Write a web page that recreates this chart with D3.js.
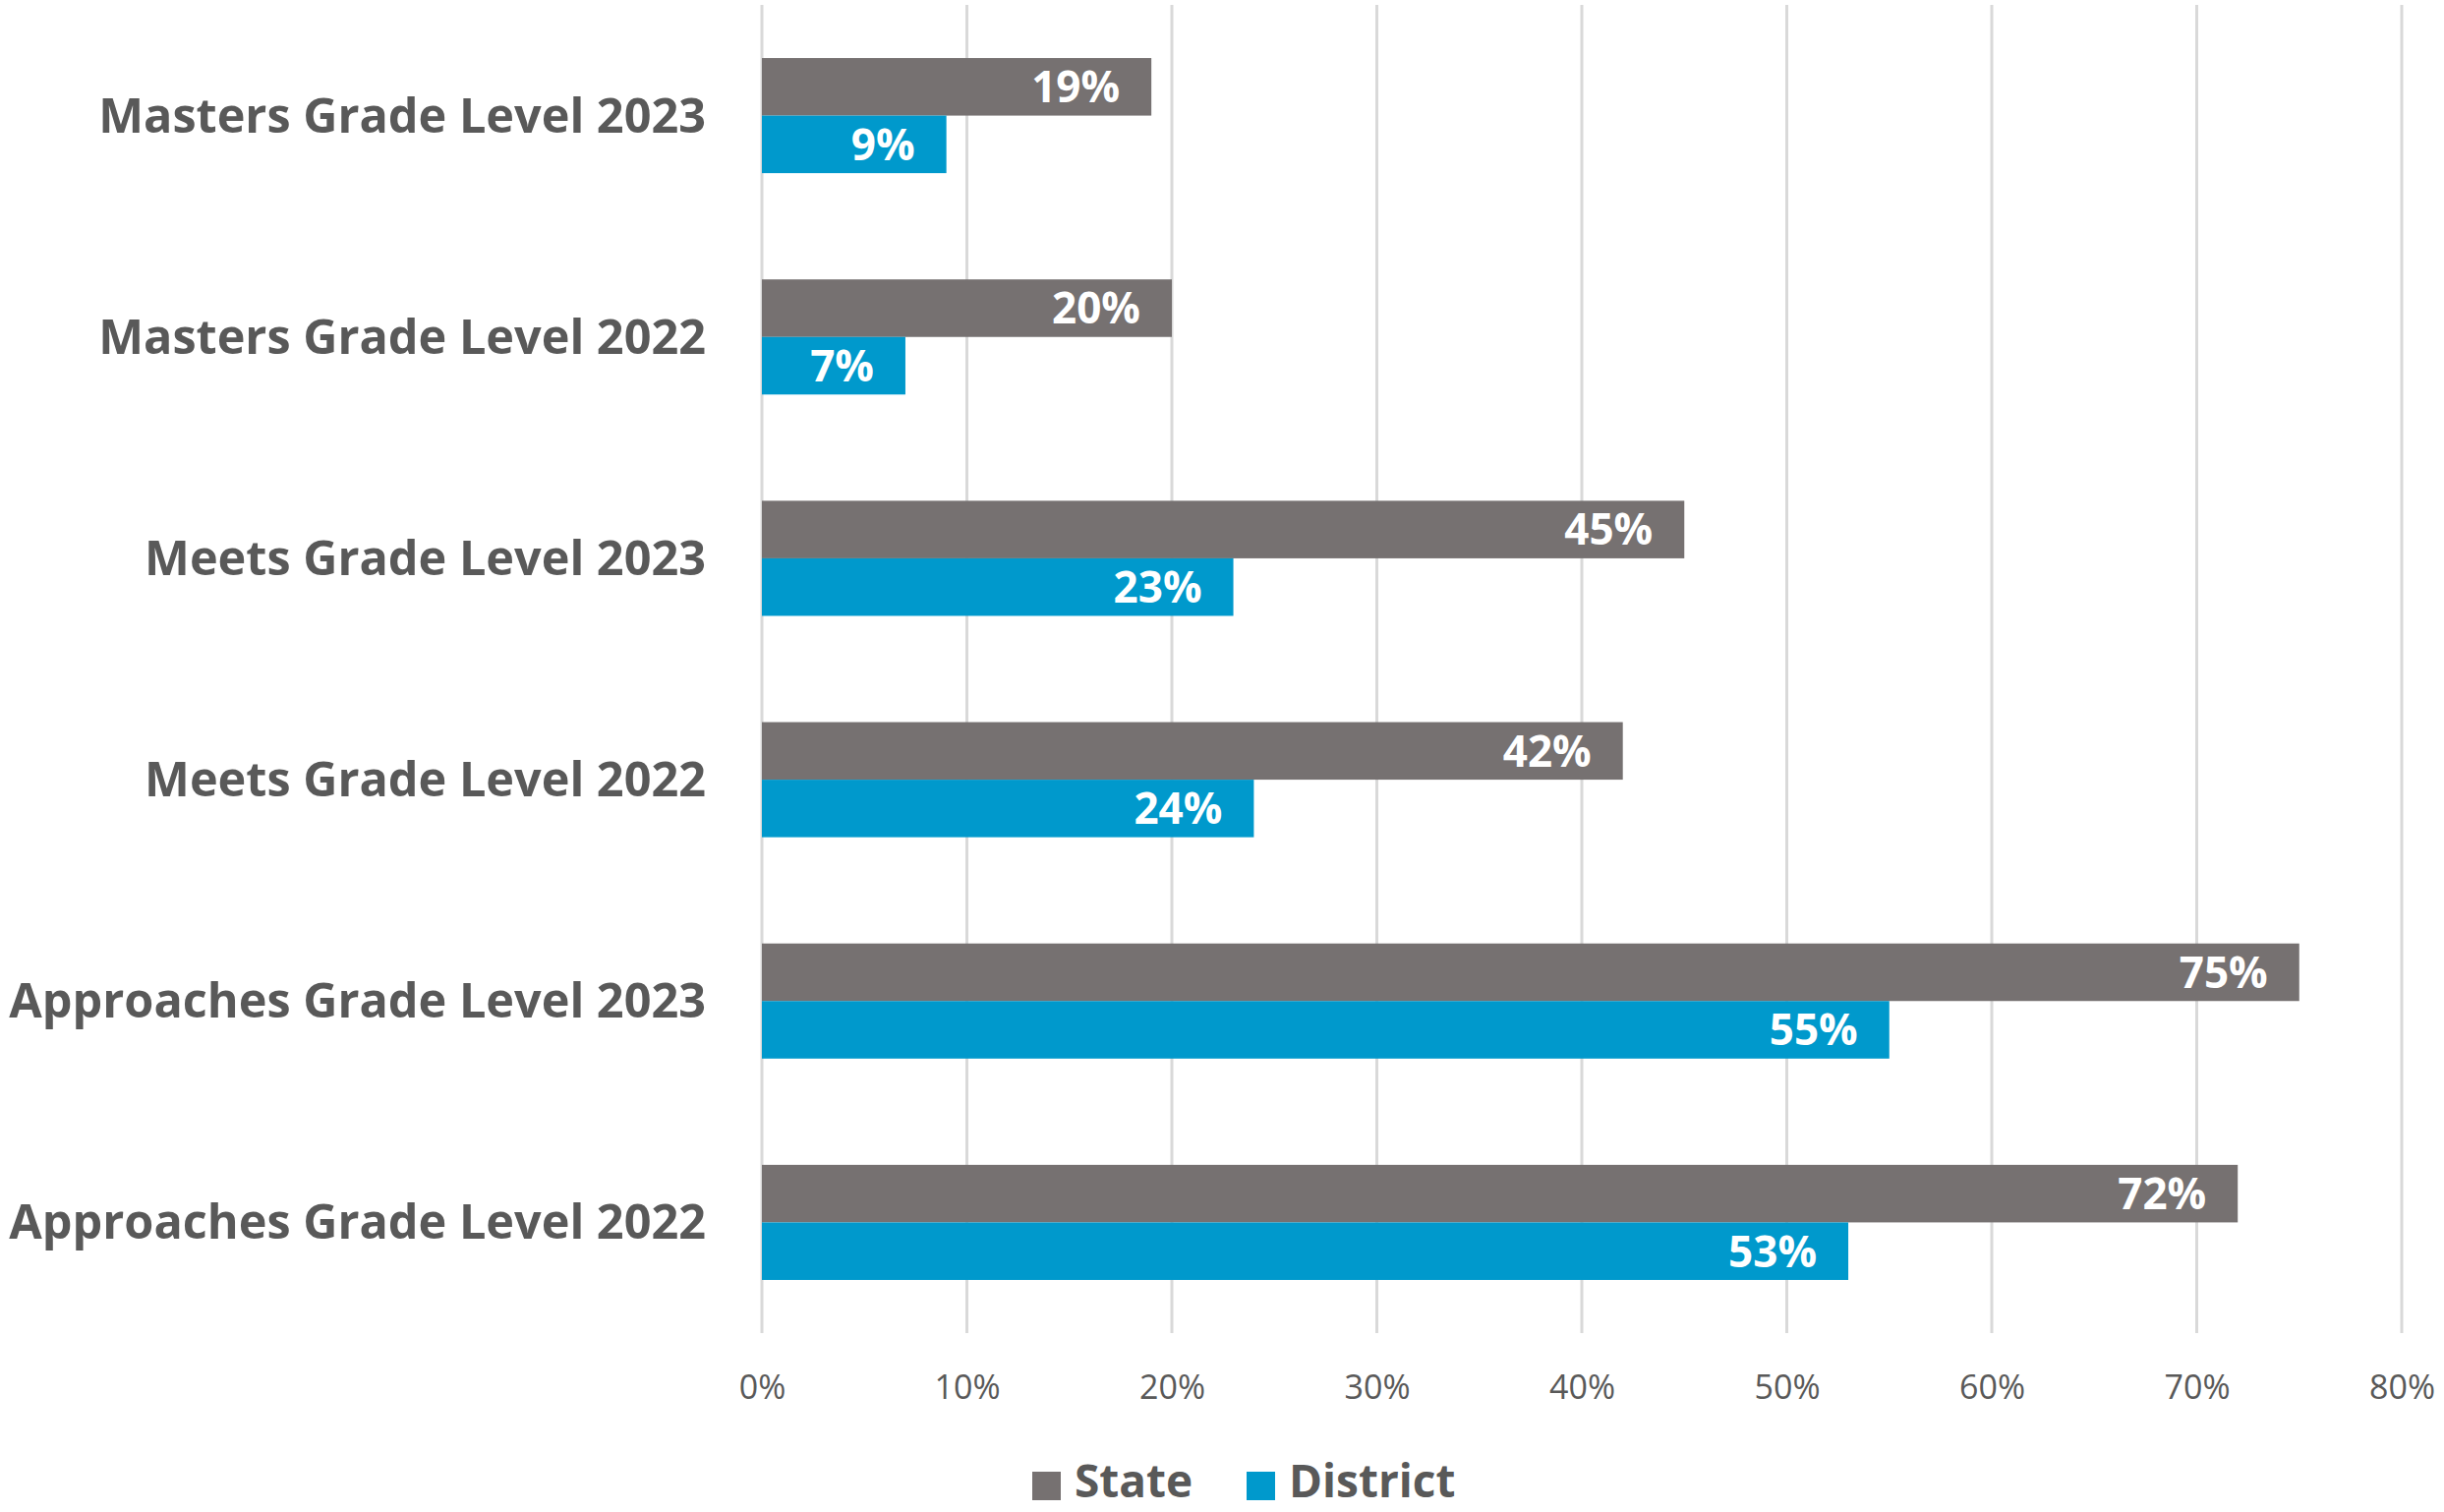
<!DOCTYPE html>
<html>
<head>
<meta charset="utf-8">
<script src="https://cdn.jsdelivr.net/npm/d3@7"></script>
<style>
  html, body { margin: 0; padding: 0; background: #ffffff; }
  svg { display: block; }
</style>
</head>
<body>
<svg id="chart" width="2486" height="1538"></svg>
<script>
// Performance levels, top to bottom
const categories = [
  "Masters Grade Level 2023",
  "Masters Grade Level 2022",
  "Meets Grade Level 2023",
  "Meets Grade Level 2022",
  "Approaches Grade Level 2023",
  "Approaches Grade Level 2022"
];
const seriesNames = ["State", "District"];
const stateValues = [19, 20, 45, 42, 75, 72];
const districtValues = [9, 7, 23, 24, 55, 53];
const tickValues = [0, 10, 20, 30, 40, 50, 60, 70, 80];
const colors = ["#767171", "#0099CC"];

const W = 2486, H = 1538;
const plot = { left: 775, right: 2443, top: 5, bottom: 1356 };
const FONT = "'Open Sans', 'Noto Sans', sans-serif";
const TEXT = "#595959";

const svg = d3.select("#chart");

const x = d3.scaleLinear().domain([0, 80]).range([plot.left, plot.right]);
const y = d3.scaleBand().domain(categories).range([plot.top, plot.bottom])
  .paddingInner(0.48).paddingOuter(0.24);
const ySub = d3.scaleBand().domain(seriesNames).range([0, y.bandwidth()]);

// Vertical gridlines
svg.append("g").selectAll("line").data(tickValues).join("line")
  .attr("x1", d => x(d)).attr("x2", d => x(d))
  .attr("y1", plot.top).attr("y2", plot.bottom)
  .attr("stroke", "#D9D9D9").attr("stroke-width", 3);

// Bottom axis labels
const xAxis = d3.axisBottom(x).tickValues(tickValues).tickSize(0).tickPadding(0)
  .tickFormat(d => d + "%");
const gx = svg.append("g").attr("transform", `translate(0,${plot.bottom})`).call(xAxis);
gx.select(".domain").remove();
gx.selectAll("text")
  .attr("y", 0).attr("dy", 0)
  .attr("transform", "translate(0,58)")
  .attr("font-family", FONT).attr("font-size", 34).attr("fill", TEXT)
  .attr("dominant-baseline", "middle");

// Category labels
const yAxis = d3.axisLeft(y).tickSize(0).tickPadding(0);
const gy = svg.append("g").attr("transform", `translate(${plot.left - 57},0)`).call(yAxis);
gy.select(".domain").remove();
gy.selectAll("text")
  .attr("x", 0).attr("dy", "0.35em")
  .attr("font-family", FONT).attr("font-size", 48.6).attr("font-weight", 700)
  .attr("fill", TEXT).attr("text-anchor", "end");

// Bars
const rows = categories.map((c, i) => ({
  cat: c,
  vals: [
    { series: "State", v: stateValues[i], color: colors[0] },
    { series: "District", v: districtValues[i], color: colors[1] }
  ]
}));

const groups = svg.append("g").selectAll("g").data(rows).join("g")
  .attr("transform", d => `translate(0,${y(d.cat)})`);

groups.selectAll("rect").data(d => d.vals).join("rect")
  .attr("x", x(0))
  .attr("y", d => ySub(d.series))
  .attr("width", d => x(d.v) - x(0))
  .attr("height", ySub.bandwidth())
  .attr("fill", d => d.color);

// Value labels inside bar ends
groups.selectAll("text").data(d => d.vals).join("text")
  .attr("x", d => x(d.v) - 32)
  .attr("y", d => ySub(d.series) + ySub.bandwidth() / 2)
  .attr("dy", "0.36em")
  .attr("text-anchor", "end")
  .attr("font-family", FONT).attr("font-size", 44).attr("font-weight", 700)
  .attr("fill", "#ffffff")
  .text(d => d.v + "%");

// Legend
const legend = svg.append("g").attr("transform", "translate(1050,1497)");
const items = [
  { name: "State", color: colors[0], x: 0 },
  { name: "District", color: colors[1], x: 218 }
];
const li = legend.selectAll("g").data(items).join("g")
  .attr("transform", d => `translate(${d.x},0)`);
li.append("rect").attr("x", 0).attr("y", 0).attr("width", 29).attr("height", 29)
  .attr("fill", d => d.color);
li.append("text").attr("x", 43).attr("y", 26)
  .attr("font-family", FONT).attr("font-size", 46).attr("font-weight", 700)
  .attr("fill", TEXT).text(d => d.name);
</script>
</body>
</html>
